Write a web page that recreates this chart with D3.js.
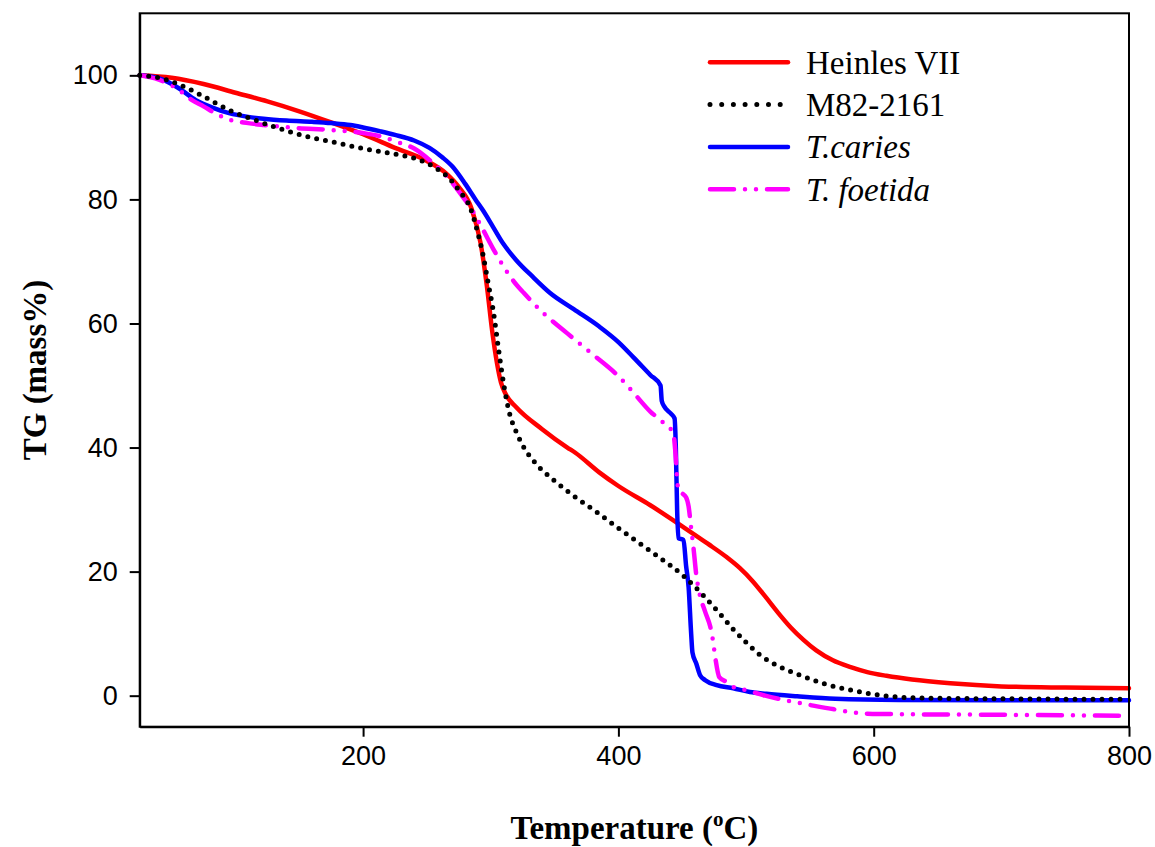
<!DOCTYPE html>
<html>
<head>
<meta charset="utf-8">
<script src="https://cdn.jsdelivr.net/npm/d3@7"></script>
<style>
  html, body { margin: 0; padding: 0; background: #fff; }
  svg { display: block; }
</style>
</head>
<body>
<svg id="chart" width="1155" height="847"></svg>
<script>
// ---- data (temperature °C, mass %) ----
const seriesNames = ["Heinles VII", "M82-2161", "T.caries", "T. foetida"];
const xTicks = [200, 400, 600, 800];
const yTicks = [0, 20, 40, 60, 80, 100];

const heinles = [[25,100],[50,99.6],[75,98.6],[100,97.2],[125,95.8],[150,94.2],[175,92.4],[200,90.5],[225,88.3],[250,86.2],[265,84.2],[275,82],[285,78.5],[292,73],[297,66],[301,59],[305,53.5],[308,50.5],[312,48.5],[320,46.5],[340,43],[360,40],[366,39.2],[385,36],[400,33.8],[425,30.7],[450,27.3],[470,24.5],[485,22.3],[495,20.6],[505,18.5],[515,16],[525,13.4],[535,11],[545,9],[555,7.3],[568,5.7],[582,4.6],[595,3.8],[610,3.2],[630,2.6],[660,2],[700,1.5],[750,1.3],[800,1.2]];

const m82 = [[25,100],[40,99.6],[56,98.5],[75,96.6],[95,94.4],[115,92.8],[135,91.4],[155,90.2],[175,89.3],[200,88.2],[225,87.3],[242,86.5],[255,85.3],[268,83.3],[276,81.2],[284,78.6],[290,74.5],[294,71],[298,66.5],[302,62],[306,56],[310,50.4],[315,45.3],[320,42.5],[326,40],[335,37.5],[349,34.8],[365,32.2],[383,29.6],[400,27],[415,24.8],[430,22.6],[451,19.3],[465,16.5],[477,13.8],[490,10.7],[500,8.6],[512,6.4],[525,4.8],[540,3.5],[560,2],[582,0.9],[608,0],[640,-0.4],[700,-0.5],[800,-0.6]];

const caries = [[25,100],[43,99.3],[55,98],[69,96],[82,94.8],[95,93.9],[110,93.3],[122,93],[140,92.7],[160,92.5],[175,92.3],[190,92],[200,91.6],[213,91],[225,90.4],[240,89.5],[252,88.3],[262,86.8],[270,85.3],[280,82.5],[288,80],[294,78.2],[302,75.5],[310,72.8],[320,70.2],[333,67.5],[346,65],[365,62.3],[385,59.5],[400,57],[412,54.5],[425,51.7],[433,50],[434,47.5],[436,46.6],[441,45.5],[444,44.7],[445,40],[446,30],[447,25.4],[451,25.1],[453,21],[455,17.5],[457,10],[458,7],[461,5.2],[464,3.3],[468,2.5],[477,1.7],[490,1.2],[503,0.6],[516,0.3],[540,-0.1],[570,-0.5],[620,-0.7],[700,-0.75],[800,-0.75]];

const foetida = [[25,100],[40,99.3],[56,97.6],[66,96],[75,95],[85,93.8],[96,92.8],[110,92.3],[122,92],[148,91.5],[174,91.2],[200,90.7],[215,90.1],[226,89.3],[240,88.2],[255,85.8],[266,83.6],[276,81],[285,78.4],[294,75.1],[302,72],[310,69.2],[318,66.8],[326,64.9],[340,61.9],[360,58.4],[380,55],[400,51.5],[412,48.8],[425,45.8],[433,44.4],[443,42.3],[444.5,39.6],[446,35],[447,33.1],[450,32.6],[453,32],[455,30.5],[457,27],[459,23.5],[461,19.5],[463,17],[468,13.5],[472,11.1],[474,9],[476,6],[479,3],[485,2.2],[490,1.4],[500,0.9],[515,0],[530,-0.7],[550,-1.5],[569,-2.2],[595,-2.9],[630,-3],[673,-3.05],[750,-3.15],[800,-3.25]];

// ---- layout ----
const svg = d3.select("#chart");
const L = 139.7, R = 1129, T = 13.3, B = 726.7;

const x = d3.scaleLinear().domain([25, 800]).range([L, R]);
const y = d3.scaleLinear().domain([-5, 110]).range([B, T]);

const styles = [
  { data: heinles, color: "#ff0000", width: 4.5, dash: null, cap: "round" },
  { data: m82, color: "#000000", width: 5, dash: "0 9", cap: "round" },
  { data: caries, color: "#0000ff", width: 4.5, dash: null, cap: "round" },
  { data: foetida, color: "#ff00ff", width: 4.5, dash: "24 11 0 11 0 11", cap: "round" }
];

const line = d3.line()
  .x(d => x(d[0]))
  .y(d => y(d[1]))
  .curve(d3.curveMonotoneX);

const drawOrder = [0, 2, 3, 1];
drawOrder.forEach(i => {
  const s = styles[i];
  svg.append("path")
    .datum(s.data)
    .attr("d", line)
    .attr("fill", "none")
    .attr("stroke", s.color)
    .attr("stroke-width", s.width)
    .attr("stroke-linecap", s.cap)
    .attr("stroke-linejoin", "round")
    .attr("stroke-dasharray", s.dash);
});

// frame
svg.append("rect")
  .attr("x", L).attr("y", T)
  .attr("width", R - L).attr("height", B - T)
  .attr("fill", "none").attr("stroke", "#000").attr("stroke-width", 2);

// axes
const xAxis = d3.axisBottom(x).tickValues(xTicks).tickSize(10).tickPadding(9).tickSizeOuter(0);
const yAxis = d3.axisLeft(y).tickValues(yTicks).tickSize(10).tickPadding(12).tickSizeOuter(0);

const gx = svg.append("g").attr("transform", `translate(0,${B})`).call(xAxis);
const gy = svg.append("g").attr("transform", `translate(${L},0)`).call(yAxis);

[gx, gy].forEach(g => {
  g.select(".domain").attr("stroke", "#000").attr("stroke-width", 2);
  g.selectAll(".tick line").attr("stroke", "#000").attr("stroke-width", 2);
  g.selectAll(".tick text")
    .attr("fill", "#000")
    .style("font-family", "'Liberation Sans', Arial, sans-serif")
    .style("font-size", "27px");
});

// axis titles
const xt = svg.append("text")
  .attr("x", (L + R) / 2).attr("y", 839)
  .attr("text-anchor", "middle")
  .style("font-family", "'Liberation Serif', 'Times New Roman', serif")
  .style("font-weight", "bold")
  .style("font-size", "33px")
  .attr("fill", "#000");
xt.append("tspan").text("Temperature (");
xt.append("tspan").text("o").attr("dy", -13).style("font-size", "21px");
xt.append("tspan").text("C)").attr("dy", 13);

svg.append("text")
  .attr("transform", `translate(46,${(T + B) / 2}) rotate(-90)`)
  .attr("text-anchor", "middle")
  .style("font-family", "'Liberation Serif', 'Times New Roman', serif")
  .style("font-weight", "bold")
  .style("font-size", "33px")
  .attr("fill", "#000")
  .text("TG (mass%)");

// legend
const legX1 = 710, legX2 = 788, legY0 = 62.3, legDY = 42.3;
styles.forEach((s, i) => {
  const yy = legY0 + i * legDY;
  svg.append("line")
    .attr("x1", legX1).attr("x2", legX2)
    .attr("y1", yy).attr("y2", yy)
    .attr("stroke", s.color)
    .attr("stroke-width", s.width)
    .attr("stroke-linecap", s.cap)
    .attr("stroke-dasharray", i === 1 ? "0 11.7" : s.dash);
  svg.append("text")
    .attr("x", 806).attr("y", yy + 11.5)
    .style("font-family", "'Liberation Serif', 'Times New Roman', serif")
    .style("font-size", "33px")
    .style("font-style", i >= 2 ? "italic" : "normal")
    .attr("fill", "#000")
    .text(seriesNames[i]);
});
</script>
</body>
</html>
